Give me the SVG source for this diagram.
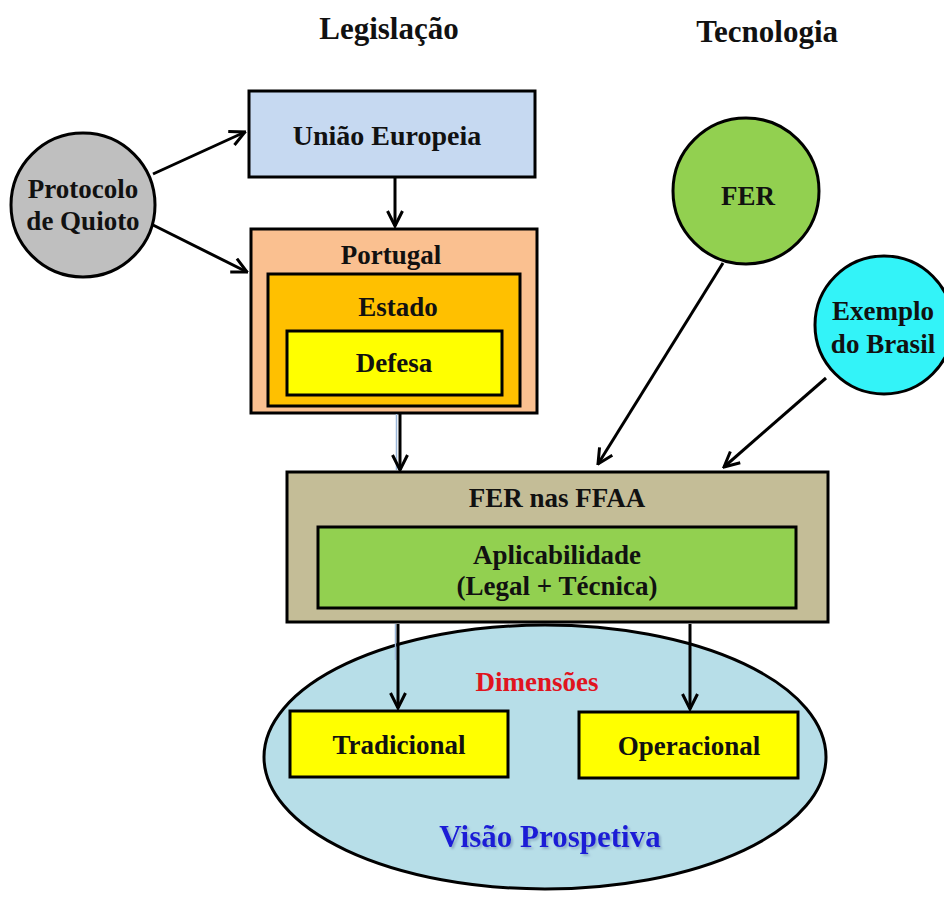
<svg xmlns="http://www.w3.org/2000/svg" width="944" height="899" viewBox="0 0 944 899">
<defs>
<marker id="arr" viewBox="0 0 12 12" refX="11" refY="6" markerWidth="6" markerHeight="6" orient="auto" markerUnits="strokeWidth">
<path d="M1,1 L11,6 L1,11" fill="none" stroke="#000" stroke-width="2"/>
</marker>
<filter id="shadow" x="-10%" y="-30%" width="120%" height="160%">
<feDropShadow dx="2" dy="2" stdDeviation="0.8" flood-color="#6f8fb0" flood-opacity="0.6"/>
</filter>
<style>
text{font-family:"Liberation Serif","Times New Roman",serif;font-weight:bold;text-anchor:middle;fill:#111}
.box{stroke:#000;stroke-width:3}
.lbl{font-size:27px}
.hd{font-size:31px}
.con{stroke:#000;stroke-width:3;fill:none;marker-end:url(#arr)}
.ghost{stroke:#9bb7d9;stroke-width:1.5;fill:none}
</style>
</defs>
<rect width="944" height="899" fill="#fff"/>
<text class="hd" x="389" y="39">Legislação</text>
<text class="hd" x="838" y="42" style="text-anchor:end">Tecnologia</text>
<g id="protocolo">
<circle class="box" cx="83" cy="205" r="72" fill="#bfbfbf"/>
<text class="lbl" x="83" y="198">Protocolo</text>
<text class="lbl" x="83" y="230">de Quioto</text>
</g>
<g id="ue">
<rect class="box" x="249" y="91" width="286" height="86" fill="#c6d9f1"/>
<text class="lbl" x="387" y="145" style="font-size:28px">União Europeia</text>
</g>
<g id="portugal">
<rect class="box" x="251" y="229" width="286" height="184" fill="#fac090"/>
<text class="lbl" x="391" y="264">Portugal</text>
</g>
<g id="estado">
<rect class="box" x="268" y="274" width="252" height="132" fill="#ffc000"/>
<text class="lbl" x="398" y="316">Estado</text>
</g>
<g id="defesa">
<rect class="box" x="287" y="331" width="215" height="64" fill="#ffff00"/>
<text class="lbl" x="394" y="372">Defesa</text>
</g>
<g id="fer">
<circle class="box" cx="746" cy="191" r="73" fill="#92d050"/>
<text class="lbl" x="748" y="205">FER</text>
</g>
<g id="brasil">
<circle class="box" cx="884" cy="325" r="69" fill="#33f3f8"/>
<text class="lbl" x="883" y="320">Exemplo</text>
<text class="lbl" x="883" y="353">do Brasil</text>
</g>
<g id="visao">
<ellipse class="box" cx="545" cy="757" rx="281" ry="132" fill="#b7dee8"/>
<text x="537" y="691" style="font-size:27px;fill:#e0141e">Dimensões</text>
<text x="550" y="847" filter="url(#shadow)" style="font-size:31px;fill:#1c1cd6">Visão  Prospetiva</text>
</g>
<g id="ffaa">
<rect class="box" x="287" y="472" width="541" height="150" fill="#c4bd97"/>
<text class="lbl" x="557" y="507">FER nas FFAA</text>
</g>
<g id="aplicabilidade">
<rect class="box" x="318" y="527" width="478" height="81" fill="#92d050"/>
<text class="lbl" x="557" y="564">Aplicabilidade</text>
<text class="lbl" x="557" y="595">(Legal + Técnica)</text>
</g>
<g id="tradicional">
<rect class="box" x="290" y="711" width="218" height="66" fill="#ffff00"/>
<text class="lbl" x="399" y="754">Tradicional</text>
</g>
<g id="operacional">
<rect class="box" x="579" y="712" width="219" height="66" fill="#ffff00"/>
<text class="lbl" x="689" y="755">Operacional</text>
</g>
<g id="connectors">
<line class="ghost" x1="396.5" y1="414" x2="396.5" y2="470"/>
<line class="ghost" x1="395.5" y1="624" x2="395.5" y2="660"/>
<line class="con" x1="153" y1="174" x2="245" y2="132"/>
<line class="con" x1="153" y1="225" x2="247" y2="272"/>
<line class="con" x1="395" y1="177" x2="395" y2="226"/>
<line class="con" x1="400" y1="414" x2="400" y2="470"/>
<line class="con" x1="723" y1="263" x2="598" y2="464"/>
<line class="con" x1="826" y1="378" x2="724" y2="467"/>
<line class="con" x1="398" y1="624" x2="398" y2="708"/>
<line class="con" x1="690" y1="624" x2="690" y2="709"/>
</g>
</svg>
